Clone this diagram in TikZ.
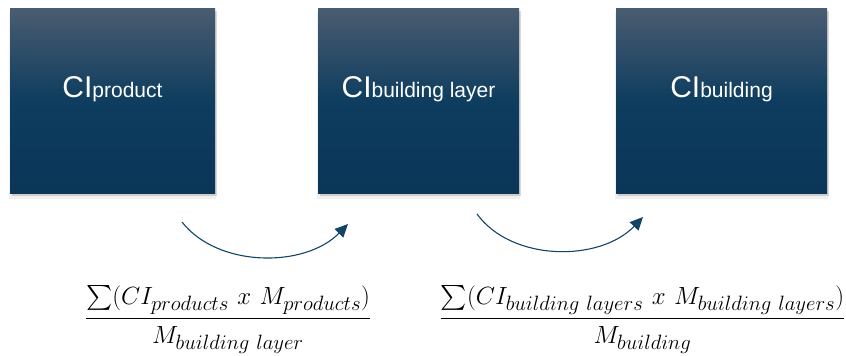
\documentclass[tikz,border=0pt]{standalone}
\usepackage{amsmath}
\usepackage{fontspec}
\setmainfont{Liberation Sans}
\usepackage{tikz}
\usetikzlibrary{shapes,arrows.meta,positioning,shadows}
\DeclareMathSizes{25}{25}{20.5}{16}
\definecolor{boxtop}{HTML}{4A5C70}
\definecolor{boxmid}{HTML}{0E3D5F}
\definecolor{boxbot}{HTML}{0A3658}
\definecolor{arrowblue}{HTML}{124466}
\tikzstyle{cibox} = [rectangle, top color=boxtop, bottom color=boxbot, middle color=boxmid, minimum height=185pt, inner sep=0pt,
    drop shadow={opacity=0.12, shadow xshift=0pt, shadow yshift=-5pt, shadow scale=1.01},
    drop shadow={opacity=0.3, shadow xshift=1.5pt, shadow yshift=-3pt}]
\tikzstyle{cilabel} = [text=white, anchor=base, inner sep=0pt, font=\fontsize{30}{30}\selectfont]
\tikzstyle{line} = [draw=arrowblue, line width=1.1pt, -{Triangle[length=13pt,width=12pt]}]
\tikzstyle{formula} = [anchor=base, inner sep=0pt, font=\fontsize{25}{30}\selectfont]
\newcommand{\sub}[1]{{\fontsize{21}{21}\selectfont #1}}
\newcommand{\numstrut}{\rule[-10pt]{0pt}{10pt}}
\newcommand{\denstrut}{\rule{0pt}{22pt}}
\newcommand{\timesx}{\ \kern1.5pt x\ \kern1.5pt}

\begin{document}
\begin{tikzpicture}[x=1pt, y=-1pt]
            \useasboundingbox (0,0) rectangle (846,356);

            \node[cibox, minimum width=205pt]  (product)  at (112.5,100.5){};
            \node[cibox, minimum width=201pt]  (layer)    at (418.5,100.5){};
            \node[cibox, minimum width=211pt]  (building) at (721.5,100.5){};

            \node[cilabel] (product_label)  at ([yshift=3.5pt]product.center){CI\sub{product}};
            \node[cilabel] (layer_label)    at ([yshift=3.5pt]layer.center){CI\sub{building layer}};
            \node[cilabel] (building_label) at ([yshift=3.5pt]building.center){CI\sub{building}};

            % arrows between the levels
            \coordinate (flow1_start) at (182,222);
            \coordinate (flow1_end)   at (348,224);
            \path[line] (flow1_start) .. controls (218,268) and (305,268) .. (flow1_end);

            \coordinate (flow2_start) at (477,214);
            \coordinate (flow2_end)   at (643,217);
            \path[line] (flow2_start) .. controls (512,262) and (600,262) .. (flow2_end);

            \node[formula] (layer_formula) at (228,324.25){
                $\dfrac{\sum(CI_{products}\timesx M_{products})\numstrut}{\denstrut M_{building\ layer}}$
            };
            \node[formula] (building_formula) at (642.5,324.25){
                $\dfrac{\sum(CI_{building\ layers}\timesx M_{building\ layers})\numstrut}{\denstrut M_{building}}$
            };
\end{tikzpicture}
\end{document}
